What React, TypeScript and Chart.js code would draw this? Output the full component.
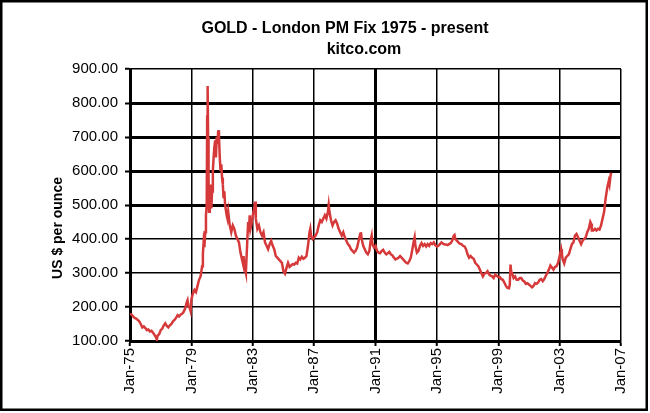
import React, { useEffect, useRef } from "react";
import { Chart, registerables } from "chart.js";
Chart.register(...registerables);

const TITLE = "GOLD - London PM Fix 1975 - present";
const SUBTITLE = "kitco.com";
const Y_TITLE = "US $ per ounce";

const tickYears = [1975, 1979, 1983, 1987, 1991, 1995, 1999, 2003, 2007];
const yTickValues = [100, 200, 300, 400, 500, 600, 700, 800, 900];

const years = [
  1975.0, 1975.1, 1975.2, 1975.3, 1975.4, 1975.5, 1975.6, 1975.7, 1975.8, 1975.9,
  1976.0, 1976.1, 1976.2, 1976.3, 1976.4, 1976.5, 1976.6, 1976.7, 1976.75, 1976.8, 1976.9,
  1977.0, 1977.1, 1977.2, 1977.3, 1977.4, 1977.5, 1977.6, 1977.7, 1977.8, 1977.9,
  1978.0, 1978.1, 1978.2, 1978.3, 1978.4, 1978.5, 1978.6, 1978.7, 1978.75, 1978.8, 1978.9, 1978.95,
  1979.0, 1979.1, 1979.2, 1979.3, 1979.4, 1979.5, 1979.6, 1979.7, 1979.75, 1979.8, 1979.85, 1979.9, 1979.95,
  1980.0, 1980.03, 1980.06, 1980.09, 1980.12, 1980.15, 1980.2, 1980.25, 1980.3, 1980.35, 1980.4, 1980.45,
  1980.5, 1980.55, 1980.6, 1980.65, 1980.7, 1980.75, 1980.8, 1980.85, 1980.9, 1980.95,
  1981.0, 1981.05, 1981.1, 1981.15, 1981.2, 1981.3, 1981.35, 1981.4, 1981.5, 1981.6, 1981.7, 1981.8, 1981.9,
  1982.0, 1982.1, 1982.2, 1982.3, 1982.35, 1982.4, 1982.45, 1982.5, 1982.55, 1982.6, 1982.65, 1982.7, 1982.75, 1982.8, 1982.85, 1982.9,
  1983.0, 1983.1, 1983.15, 1983.2, 1983.3, 1983.4, 1983.5, 1983.6, 1983.7, 1983.8, 1983.9,
  1984.0, 1984.1, 1984.2, 1984.3, 1984.4, 1984.5, 1984.6, 1984.7, 1984.8, 1984.9,
  1985.0, 1985.1, 1985.2, 1985.3, 1985.4, 1985.5, 1985.6, 1985.7, 1985.8, 1985.9,
  1986.0, 1986.1, 1986.2, 1986.3, 1986.4, 1986.5, 1986.6, 1986.7, 1986.75, 1986.8, 1986.9,
  1987.0, 1987.1, 1987.2, 1987.3, 1987.4, 1987.5, 1987.6, 1987.7, 1987.8, 1987.9, 1987.95,
  1988.0, 1988.1, 1988.2, 1988.3, 1988.4, 1988.5, 1988.6, 1988.7, 1988.8, 1988.9,
  1989.0, 1989.1, 1989.2, 1989.3, 1989.4, 1989.5, 1989.6, 1989.7, 1989.8, 1989.9,
  1990.0, 1990.05, 1990.1, 1990.2, 1990.3, 1990.4, 1990.5, 1990.6, 1990.7, 1990.75, 1990.8, 1990.9,
  1991.0, 1991.1, 1991.2, 1991.3, 1991.4, 1991.5, 1991.6, 1991.7, 1991.8, 1991.9,
  1992.0, 1992.1, 1992.2, 1992.3, 1992.4, 1992.5, 1992.6, 1992.7, 1992.8, 1992.9,
  1993.0, 1993.1, 1993.2, 1993.3, 1993.4, 1993.5, 1993.55, 1993.6, 1993.7, 1993.8, 1993.9,
  1994.0, 1994.1, 1994.2, 1994.3, 1994.4, 1994.5, 1994.6, 1994.7, 1994.8, 1994.9,
  1995.0, 1995.1, 1995.2, 1995.3, 1995.4, 1995.5, 1995.6, 1995.7, 1995.8, 1995.9,
  1996.0, 1996.1, 1996.15, 1996.2, 1996.3, 1996.4, 1996.5, 1996.6, 1996.7, 1996.8, 1996.9,
  1997.0, 1997.1, 1997.2, 1997.3, 1997.4, 1997.5, 1997.6, 1997.7, 1997.8, 1997.9,
  1998.0, 1998.1, 1998.2, 1998.3, 1998.4, 1998.5, 1998.6, 1998.7, 1998.8, 1998.9,
  1999.0, 1999.1, 1999.2, 1999.3, 1999.4, 1999.5, 1999.6, 1999.7, 1999.75, 1999.8, 1999.85, 1999.9,
  2000.0, 2000.1, 2000.2, 2000.3, 2000.4, 2000.5, 2000.6, 2000.7, 2000.8, 2000.9,
  2001.0, 2001.1, 2001.2, 2001.3, 2001.4, 2001.5, 2001.6, 2001.7, 2001.8, 2001.9,
  2002.0, 2002.1, 2002.2, 2002.3, 2002.4, 2002.5, 2002.6, 2002.7, 2002.8, 2002.9,
  2003.0, 2003.1, 2003.15, 2003.2, 2003.3, 2003.4, 2003.5, 2003.6, 2003.7, 2003.8, 2003.9,
  2004.0, 2004.1, 2004.2, 2004.3, 2004.4, 2004.5, 2004.6, 2004.7, 2004.8, 2004.9,
  2005.0, 2005.05, 2005.1, 2005.2, 2005.3, 2005.4, 2005.5, 2005.6, 2005.7, 2005.8, 2005.9,
  2006.0, 2006.1, 2006.2, 2006.25, 2006.3, 2006.35,
];

const prices = [
  180, 178, 172, 168, 166, 162, 158, 150, 140, 143,
  138, 132, 134, 128, 130, 124, 118, 110, 104, 116, 120,
  132, 136, 146, 152, 144, 140, 146, 150, 158, 162,
  168, 176, 172, 178, 180, 186, 196, 214, 220, 204, 196, 188,
  222, 240, 250, 244, 262, 280, 290, 320, 356, 392, 376, 420, 470,
  500, 760, 850, 700, 580, 480, 520, 560, 490, 540, 600, 640,
  670, 690, 640, 700, 680, 720, 700, 640, 600, 620,
  580, 560, 520, 540, 500, 470, 460, 480, 440, 420, 440, 430, 410,
  400, 390, 360, 340, 330, 350, 320, 310, 300, 350, 400, 450, 420, 470, 430, 440,
  470, 490, 510, 460, 430, 440, 420, 410, 420, 390, 380,
  370, 385, 395, 380, 370, 350, 345, 340, 335, 330,
  305, 298, 315, 330, 318, 322, 326, 325, 330, 328,
  345, 340, 348, 342, 345, 350, 380, 420, 430, 410, 400,
  405, 410, 420, 440, 455, 450, 460, 470, 460, 480, 500,
  480, 455, 440, 450, 455, 445, 430, 420, 410, 420,
  405, 395, 385, 380, 370, 365, 360, 365, 375, 395,
  415, 420, 400, 380, 370, 360, 355, 365, 400, 410, 385, 375,
  380, 365, 360, 358, 365, 368, 360, 355, 358, 362,
  355, 352, 345, 340, 342, 345, 350, 345, 340, 335,
  330, 328, 335, 345, 370, 395, 405, 380, 360, 365, 380,
  388, 380, 385, 378, 385, 380, 388, 385, 390, 382,
  378, 380, 385, 390, 386, 384, 384, 382, 385, 388,
  395, 410, 412, 400, 395, 390, 386, 385, 380, 378, 370,
  355, 345, 350, 345, 342, 330, 325, 320, 310, 300,
  290, 298, 300, 305, 296, 292, 290, 285, 295, 292,
  288, 288, 282, 280, 272, 262, 256, 255, 265, 325, 300, 300,
  285, 290, 280, 280, 285, 285, 278, 275, 268, 270,
  266, 262, 258, 262, 270, 268, 272, 280, 282, 276,
  282, 292, 300, 310, 322, 316, 310, 318, 320, 330,
  350, 370, 355, 340, 328, 345, 350, 355, 370, 385, 390,
  410, 415, 405, 395, 385, 395, 400, 405, 420, 430,
  450, 445, 425, 425, 430, 425, 430, 428, 440, 460, 480,
  520, 550, 570, 560, 580, 595,
];

const FONT = '"Liberation Sans", Arial, sans-serif';

export default function App() {
  const ref = useRef<HTMLCanvasElement>(null);

  useEffect(() => {
    const canvas = ref.current;
    if (!canvas) return;

    const decor = {
      id: "decor",
      afterDraw(chart: any) {
        const ctx = chart.ctx;
        ctx.save();
        ctx.strokeStyle = "#000";
        ctx.lineWidth = 2.5;
        ctx.strokeRect(1.25, 1.25, 645.5, 408.5);
        ctx.fillStyle = "#000";
        ctx.font = `bold 16px ${FONT}`;
        ctx.textAlign = "center";
        ctx.textBaseline = "alphabetic";
        ctx.fillText(TITLE, 345, 33);
        ctx.fillText(SUBTITLE, 364, 54);
        ctx.translate(58, 228);
        ctx.rotate(-Math.PI / 2);
        ctx.font = `bold 14px ${FONT}`;
        ctx.textBaseline = "middle";
        ctx.fillText(Y_TITLE, 0, 0);
        ctx.restore();
      },
    };

    const chart = new Chart(canvas, {
      type: "line",
      data: {
        datasets: [
          {
            data: years.map((x, i) => ({ x, y: prices[i] })),
            borderColor: "#d6393a",
            borderWidth: 2.5,
            pointRadius: 0,
            tension: 0,
          },
        ],
      },
      options: {
        animation: false,
        responsive: false,
        layout: { padding: { top: 69, right: 29, left: 0, bottom: 0 } },
        plugins: {
          legend: { display: false },
          tooltip: { enabled: false },
          title: { display: false },
        },
        scales: {
          x: {
            type: "linear",
            min: 1975,
            max: 2007,
            afterBuildTicks: (s: any) => {
              s.ticks = tickYears.map((v) => ({ value: v }));
            },
            afterFit: (s: any) => {
              s.height = 72;
            },
            ticks: {
              autoSkip: false,
              minRotation: 90,
              maxRotation: 90,
              padding: 2,
              color: "#000",
              font: { family: FONT, size: 15 },
              callback: (v: any) => "Jan-" + String(v).slice(2),
            },
            grid: {
              color: "#000",
              lineWidth: (c: any) => (c.tick && c.tick.value === 1991 ? 3 : 1.5),
              tickLength: 5,
              tickWidth: 2,
            },
            border: { color: "#000", width: 3 },
          },
          y: {
            min: 100,
            max: 900,
            afterBuildTicks: (s: any) => {
              s.ticks = yTickValues.map((v) => ({ value: v }));
            },
            afterFit: (s: any) => {
              s.width = 130;
            },
            ticks: {
              padding: 7,
              color: "#000",
              font: { family: FONT, size: 15 },
              callback: (v: any) => Number(v).toFixed(2),
            },
            grid: {
              color: "#000",
              lineWidth: (c: any) =>
                c.tick && c.tick.value >= 500 && c.tick.value <= 800 ? 3 : 1.5,
              tickLength: 5,
              tickWidth: 2,
            },
            border: { color: "#000", width: 3 },
          },
        },
      },
      plugins: [decor],
    });

    return () => chart.destroy();
  }, []);

  return (
    <div style={{ position: "fixed", left: 0, top: 0, width: 650, height: 413, background: "#fff" }}>
      <canvas ref={ref} width={650} height={413} style={{ display: "block" }} />
    </div>
  );
}
